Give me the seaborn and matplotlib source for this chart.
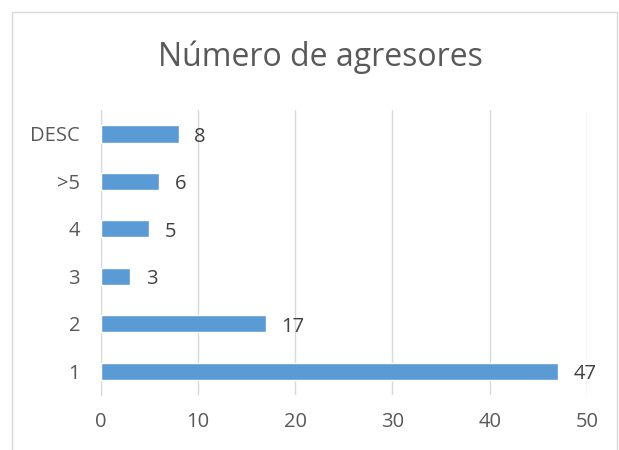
import matplotlib
matplotlib.use("Agg")
import matplotlib.pyplot as plt
import seaborn as sns
import pandas as pd
from matplotlib.patches import Rectangle

categorias = ["DESC", ">5", "4", "3", "2", "1"]
valores = [8, 6, 5, 3, 17, 47]
titulo = "Número de agresores"

df = pd.DataFrame({"cat": categorias, "val": valores})

sns.set_style("white")
plt.rcParams["font.family"] = ["Open Sans", "DejaVu Sans"]

fig = plt.figure(figsize=(6.19, 4.5), dpi=100)
ax = fig.add_axes([0.163, 0.122, 0.785, 0.633])

sns.barplot(data=df, x="val", y="cat", orient="h", color="#5B9BD5",
            saturation=1, width=0.36, ax=ax, zorder=3)

ax.set_xlim(0, 50)
ax.set_xticks(range(0, 51, 10))
ax.grid(axis="x", color="#D9D9D9", linewidth=1, zorder=0)
ax.grid(axis="y", visible=False)
for s in ["top", "right", "bottom"]:
    ax.spines[s].set_visible(False)
ax.spines["left"].set_color("#D9D9D9")
ax.set_xlabel("")
ax.set_ylabel("")
ax.tick_params(axis="both", length=0, labelsize=14.5, labelcolor="#595959")
ax.tick_params(axis="x", pad=12)
ax.tick_params(axis="y", pad=15)

for i, v in enumerate(valores):
    ax.text(v + 1.6, i + 0.06, str(v), va="center", ha="left",
            fontsize=14.5, color="#404040")

fig.text(0.518, 0.873, titulo, ha="center", va="center", fontsize=23, color="#595959")

fig.patches.append(Rectangle((12 / 619, -0.01), 605 / 619, (450 - 12) / 450 + 0.01,
                             transform=fig.transFigure, fill=False,
                             edgecolor="#D9D9D9", linewidth=1))

fig.savefig("out.png", dpi=100)
